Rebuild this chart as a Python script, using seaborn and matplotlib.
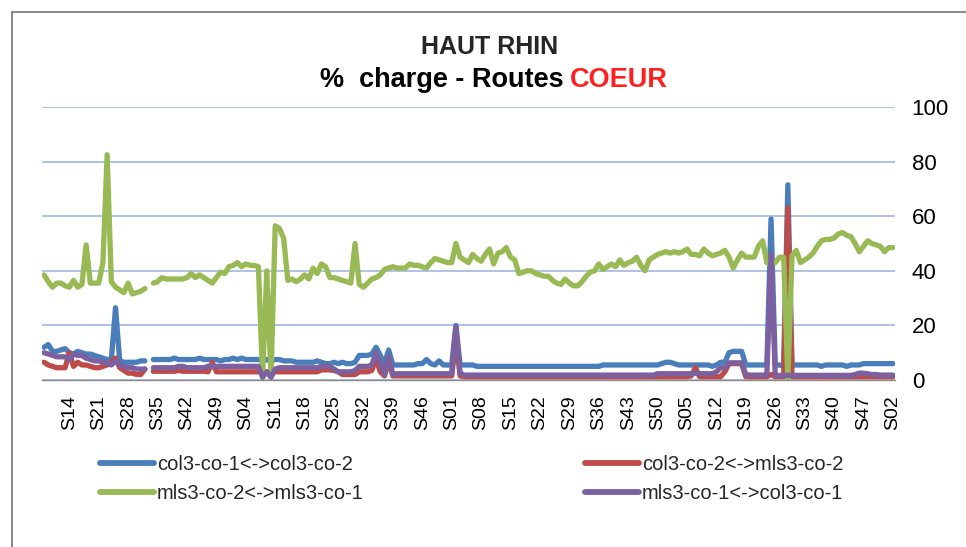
import numpy as np
import pandas as pd
import matplotlib
matplotlib.use("Agg")
import matplotlib.pyplot as plt
import seaborn as sns
from matplotlib.lines import Line2D
from matplotlib.patches import Rectangle

nan = np.nan

# ---- categories: weeks S08 (year 1) ... S02 (year 5)
year_ranges = [(8, 52), (1, 52), (1, 52), (1, 52), (1, 2)]
weeks = []
for a, b in year_ranges:
    weeks += ["S%02d" % w for w in range(a, b + 1)]

tick_labels = ["S14", "S21", "S28", "S35", "S42", "S49", "S04", "S11", "S18", "S25",
               "S32", "S39", "S46", "S01", "S08", "S15", "S22", "S29", "S36", "S43",
               "S50", "S05", "S12", "S19", "S26", "S33", "S40", "S47", "S02"]

series_names = ["col3-co-1<->col3-co-2", "col3-co-2<->mls3-co-2",
                "mls3-co-2<->mls3-co-1", "mls3-co-1<->col3-co-1"]

blue = [12, 13, 10.5, 10.5, 11, 11.5, 10, 9.5, 10.5, 10,
        9.5, 9.5, 9, 8.5, 8, 7.5, 7.5, 26.5, 7, 6.5,
        6.5, 6.5, 6.5, 7, 7, nan, 7.5, 7.5, 7.5, 7.5,
        7.5, 8, 7.5, 7.5, 7.5, 7.5, 7.5, 8, 7.5, 7.5,
        7.5, 7.5, 7, 7.5, 7.5, 8, 7.5, 8, 7.5, 7.5,
        7.5, 7.5, 7, 7.5, 7, 7.5, 7.5, 7, 7, 7,
        6.5, 6.5, 6.5, 6.5, 6.5, 7, 6.5, 6, 6, 6.5,
        6, 6.5, 6, 6, 6.5, 9, 9, 9, 9.5, 12,
        9, 6, 11, 5.5, 5.5, 5.5, 5.5, 5.5, 5.5, 6,
        6, 7.5, 6, 5.5, 7, 5.5, 5.5, 5.5, 20, 5.5,
        5.5, 5.5, 5.5, 5, 5, 5, 5, 5, 5, 5,
        5, 5, 5, 5, 5, 5, 5, 5, 5, 5,
        5, 5, 5, 5, 5, 5, 5, 5, 5, 5,
        5, 5, 5, 5.5, 5.5, 5.5, 5.5, 5.5, 5.5, 5.5,
        5.5, 5.5, 5.5, 5.5, 5.5, 5.5, 5.5, 6, 6.5, 6.5,
        6, 5.5, 5.5, 5.5, 5.5, 5.5, 5.5, 5.5, 5.5, 5,
        5.5, 6.5, 6.5, 10, 10.5, 10.5, 10.5, 5.5, 5.5, 5.5,
        5.5, 5.5, 5.5, 59, 5.5, 5.5, 5, 71.5, 5.5, 5.5,
        5.5, 5.5, 5.5, 5.5, 5.5, 5, 5.5, 5.5, 5.5, 5.5,
        5.5, 5, 5.5, 5.5, 5.5, 6, 6, 6, 6, 6,
        6, 6, 6]

red = [6.5, 5.5, 5, 4.5, 4.5, 4.5, 10, 5, 6.5, 5.5,
       5.5, 5, 4.5, 4.5, 5, 5.5, 6.5, 8, 4.5, 3.5,
       2.5, 2.5, 2, 2, 4, nan, 3.2, 3.2, 3.2, 3.2,
       3.2, 3.2, 3.5, 3.2, 3.2, 3.2, 3.2, 3.2, 3.2, 3,
       6.5, 3, 3, 3, 3, 3, 3, 3, 3, 3,
       3, 3, 3, 3, 3, 3, 3, 3, 3, 3,
       3, 3, 3, 3, 3, 3, 3.7, 3.7, 3.7, 3.5,
       3, 2, 2, 2, 2, 3, 3, 3, 3.5, 8,
       3, 1.5, 7, 1.5, 1.5, 1.5, 1.5, 1.5, 1.5, 1.5,
       1.5, 1.5, 1.5, 1.5, 1.5, 1.5, 1.5, 1.5, 15, 1.5,
       1.2, 1.2, 1.2, 1.2, 1.2, 1.2, 1.2, 1.2, 1.2, 1.2,
       1.2, 1.2, 1.2, 1.2, 1.2, 1.2, 1.2, 1.2, 1.2, 1.2,
       1.2, 1.2, 1.2, 1.2, 1.2, 1.2, 1.2, 1.2, 1.2, 1.2,
       1.2, 1.2, 1.2, 1.2, 1.2, 1.2, 1.2, 1.2, 1.2, 1.2,
       1.2, 1.2, 1.2, 1.2, 1.2, 1.2, 1.2, 1.2, 1.2, 1.2,
       1.2, 1.2, 1.2, 1.2, 1.5, 4.5, 1.2, 1.2, 1.2, 1.2,
       1.2, 1.2, 3, 6, 6, 6, 6, 1.2, 1.2, 1.2,
       1.2, 1.2, 1.2, 2, 1.2, 1.2, 1.2, 63, 1.2, 1.2,
       1.2, 1.2, 1.2, 1.2, 1.2, 1.2, 1.2, 1.2, 1.2, 1.2,
       1.2, 1.2, 1.2, 1.2, 1.2, 1.2, 1.2, 1.2, 1.2, 1.2,
       1.2, 1.2, 1.2]

green = [38.5, 36, 34, 35.5, 35.5, 34.5, 34, 36.5, 34, 35,
         49.5, 35.5, 35.5, 35.5, 43, 82.5, 36, 34, 33, 32,
         35.5, 31.5, 32, 32.5, 33.5, nan, 35.5, 36, 37.5, 37,
         37, 37, 37, 37, 37.5, 39, 37.5, 38.5, 37.5, 36.5,
         35.5, 37.5, 39.5, 39, 41.5, 42, 43, 41.5, 42.5, 42,
         42, 41.5, 1, 40, 1, 56.5, 55.5, 52, 36.5, 37,
         36, 37, 38.5, 37, 41, 39, 42.5, 41.5, 37.5, 37.5,
         37, 36.5, 36, 35.5, 50, 35, 34, 35.5, 37, 37.5,
         38.5, 40.5, 41, 41.5, 41, 41, 41, 42.5, 42, 42,
         41.5, 41, 43, 44.5, 44, 43.5, 43, 43, 50, 45,
         44, 43, 46, 44.5, 43.5, 46, 48, 42.5, 46.5, 47,
         48.5, 45, 44, 39, 39.5, 40, 40, 39, 38.5, 38,
         38, 36.5, 35.5, 35, 37, 35.5, 34.5, 34.5, 36, 38,
         39.5, 40, 42.5, 40.5, 41.5, 42.5, 41.5, 44, 42, 43,
         43.5, 45, 42, 40, 44, 45, 46, 46.5, 47, 46.5,
         47, 46.5, 47, 48, 46, 46, 45.5, 48, 46.5, 45.5,
         46, 46.5, 47.5, 45, 41, 44, 46.5, 45, 45, 45,
         49, 51, 43, 42.5, 43, 45, 45, 0, 45.5, 47.5,
         43, 44, 45, 46.5, 49, 51, 51.5, 51.5, 52, 53.5,
         54, 53, 52.5, 50, 47, 49, 51, 50, 49.5, 49,
         47, 48.5, 48.5]

purple = [10, 9.5, 9, 8.5, 8.5, 8.5, 7.5, 9.5, 9, 9,
          8, 7.5, 7, 7, 6.5, 6, 5.5, 7, 5.5, 5,
          4.5, 4.5, 4, 4, 4, nan, 4.5, 4.5, 4.5, 4.5,
          4.5, 4.5, 5, 5, 4.5, 4.5, 4.5, 4.5, 4.5, 5,
          5, 5, 5, 5, 5, 5, 5, 5, 5, 5,
          5, 5, 1, 3, 1, 4, 4.5, 4.5, 4.5, 4.5,
          4.5, 4.5, 4.5, 4.5, 4.5, 4.5, 5, 5, 5, 4,
          3, 3, 3, 3, 3.5, 5, 5, 5, 5.5, 10,
          6, 2, 8.5, 2, 2.3, 2.3, 2.3, 2.3, 2.3, 2.3,
          2.3, 2.3, 2.3, 2.3, 2.3, 2.3, 2.3, 2.3, 19.5, 2.5,
          1.8, 1.8, 1.8, 1.8, 1.8, 1.8, 1.8, 1.8, 1.8, 1.8,
          1.8, 1.8, 1.8, 1.8, 1.8, 1.8, 1.8, 1.8, 1.8, 1.8,
          1.8, 1.8, 1.8, 1.8, 1.8, 1.8, 1.8, 1.8, 1.8, 1.8,
          1.8, 1.8, 1.8, 1.8, 1.8, 1.8, 1.8, 1.8, 1.8, 1.8,
          1.8, 1.8, 1.8, 1.8, 1.8, 1.8, 2.3, 2.3, 2.3, 2.3,
          2.3, 2.3, 2.3, 2.3, 2.3, 2.5, 2.3, 2.3, 2.3, 2.3,
          3, 4.5, 4.5, 6.3, 6.3, 6.3, 6.3, 2, 1.8, 1.8,
          1.8, 1.8, 1.8, 46, 1.7, 1.7, 1.7, 1.7, 1.7, 1.7,
          1.7, 1.7, 1.7, 1.7, 1.7, 1.7, 1.7, 1.7, 1.7, 1.7,
          1.7, 1.7, 1.7, 2, 2.5, 2.5, 2.3, 2, 2, 1.8,
          1.8, 1.8, 1.8]

colors = ["#4A7EBB", "#BE4B48", "#98B954", "#7D60A0"]

# ---- long table (segments split at missing weeks so lines break)
frames = []
for name, vals in zip(series_names, [blue, red, green, purple]):
    v = np.asarray(vals, dtype=float)
    seg = np.cumsum(np.isnan(v))
    frames.append(pd.DataFrame({"idx": np.arange(len(weeks)), "week": weeks,
                                "value": v, "series": name, "seg": seg}))
df = pd.concat(frames, ignore_index=True).dropna(subset=["value"])

sns.set_theme(style="white")
plt.rcParams["font.family"] = ["Liberation Sans", "DejaVu Sans"]

W, H = 966, 547
fig = plt.figure(figsize=(W / 100, H / 100), dpi=100)
fig.patch.set_facecolor("white")
L, R, T, B = 42, 895, 107, 380
ax = fig.add_axes([L / W, 1 - B / H, (R - L) / W, (B - T) / H])

sns.lineplot(data=df, x="idx", y="value", hue="series", units="seg",
             estimator=None, hue_order=series_names, palette=colors,
             linewidth=3.8, legend=False, sort=False, ax=ax,
             solid_joinstyle="round", solid_capstyle="round")

ax.set_xlim(-0.5, len(weeks) - 0.5)
ax.set_ylim(0, 100)
ax.set_xlabel("")
ax.set_ylabel("")

ax.set_yticks([0, 20, 40, 60, 80, 100])
ax.yaxis.tick_right()
ax.yaxis.grid(True, color="#A7BDE3", linewidth=1.3)
ax.xaxis.grid(False)
ax.set_axisbelow(True)
ax.tick_params(axis="y", length=0, pad=12, labelsize=16, labelcolor="black")

pos = [weeks.index(tick_labels[0]) + 7 * k for k in range(len(tick_labels))]
ax.set_xticks(pos)
ax.set_xticklabels(tick_labels, rotation=90)
ax.set_xticks(np.arange(-0.5, len(weeks), 1), minor=True)
ax.tick_params(axis="x", which="major", length=0, pad=11, labelsize=14, labelcolor="black")
ax.tick_params(axis="x", which="minor", length=5, width=0.8, color="#8A8A8A", direction="out")

for s in ["top", "left", "right"]:
    ax.spines[s].set_visible(False)
ax.spines["bottom"].set_color("#8A8A8A")
ax.spines["bottom"].set_linewidth(1.0)

# ---- legends (two columns placed as in the reference)
handles = [Line2D([0], [0], color=c, lw=4.2) for c in colors]
leg_kw = dict(frameon=False, fontsize=14.5, handlelength=2.7, handletextpad=0.12,
              labelspacing=0.5, borderpad=0, borderaxespad=0, loc="upper left",
              bbox_transform=fig.transFigure)
leg1 = ax.legend([handles[0], handles[2]], [series_names[0], series_names[2]],
                 bbox_to_anchor=(100 / W, 1 - 455 / H), **leg_kw)
ax.add_artist(leg1)
leg2 = ax.legend([handles[1], handles[3]], [series_names[1], series_names[3]],
                 bbox_to_anchor=(585 / W, 1 - 455 / H), **leg_kw)

# ---- titles
fig.text(490 / W, 1 - 47 / H, "HAUT RHIN", ha="center", va="center",
         fontsize=18, fontweight="bold")
y2 = 1 - 80 / H
t1 = fig.text(0, y2, "%  charge - Routes", ha="left", va="center",
              fontsize=19.5, fontweight="bold", color="black")
t2 = fig.text(0, y2, "COEUR", ha="left", va="center",
              fontsize=19.5, fontweight="bold", color="#FF1F1F")
fig.canvas.draw()
r = fig.canvas.get_renderer()
w1 = t1.get_window_extent(r).width
w2 = t2.get_window_extent(r).width
gap = 0.25 * 19.5 * 100 / 72
start = 494 - (w1 + gap + w2) / 2
t1.set_x(start / W)
t2.set_x((start + w1 + gap) / W)

# ---- chart border
fig.patches.append(Rectangle((12 / W, -0.1), 1.2, 1 - 12 / H + 0.1,
                             transform=fig.transFigure, fill=False,
                             edgecolor="#8C8C8C", linewidth=1.5))

fig.savefig("out.png", dpi=100, facecolor="white")
